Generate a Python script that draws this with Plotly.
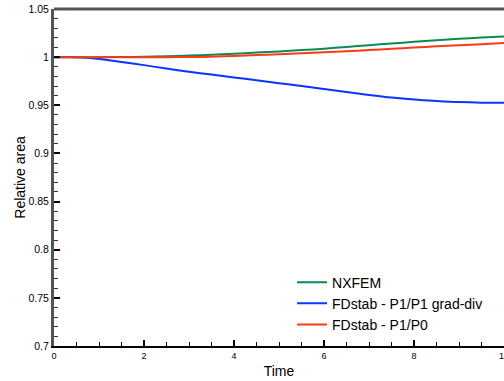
import plotly.graph_objects as go

time = [0, 0.5, 1, 1.5, 2, 2.5, 3, 3.5, 4, 4.5, 5, 5.5, 6, 6.5, 7, 7.5, 8, 8.5, 9, 9.5, 10]

nxfem = [1.0, 1.0, 1.0, 1.0001, 1.0004, 1.0009, 1.0016, 1.0026, 1.0036, 1.0047, 1.0059,
         1.0073, 1.0088, 1.0106, 1.0124, 1.0142, 1.0159, 1.0175, 1.0190, 1.0203, 1.0215]
fdstab_gd = [1.0, 0.9999, 0.9981, 0.9950, 0.9917, 0.9881, 0.9849, 0.9819, 0.9789, 0.9760, 0.9730,
             0.9700, 0.9669, 0.9638, 0.9608, 0.9581, 0.9560, 0.9545, 0.9533, 0.9527, 0.9526]
fdstab_p0 = [1.0, 1.0, 1.0, 1.0, 1.0, 1.0, 1.0001, 1.0005, 1.0012, 1.0021, 1.0030,
             1.0040, 1.0050, 1.0061, 1.0074, 1.0087, 1.0100, 1.0112, 1.0124, 1.0135, 1.0146]

names = ["NXFEM", "FDstab - P1/P1 grad-div", "FDstab - P1/P0"]
colors = ["#0b8a52", "#0a34ff", "#ff3a14"]

x_ticks = [0, 2, 4, 6, 8, 10]
y_ticks = [0.7, 0.75, 0.8, 0.85, 0.9, 0.95, 1.0, 1.05]
y_tick_text = ["0.7", "0.75", "0.8", "0.85", "0.9", "0.95", "1", "1.05"]

fig = go.Figure()
for name, ys, c in zip(names, [nxfem, fdstab_gd, fdstab_p0], colors):
    fig.add_trace(go.Scatter(x=time, y=ys, mode="lines", name=name,
                             line=dict(color=c, width=2, shape="spline", smoothing=0.8)))

fig.update_layout(
    width=504, height=381,
    margin=dict(l=54, r=0, t=9, b=35, autoexpand=False),
    paper_bgcolor="white", plot_bgcolor="white",
    font=dict(family="Liberation Sans, Arial, sans-serif", color="black"),
    showlegend=True,
    legend=dict(x=0.529, y=0.126, xanchor="left", yanchor="middle",
                bgcolor="rgba(0,0,0,0)", font=dict(size=14), itemwidth=30,
                tracegroupgap=0),
)

fig.update_xaxes(
    range=[0, 10], tickvals=x_ticks, ticktext=[str(v) for v in x_ticks],
    ticks="inside", ticklen=6, tickwidth=1.5, tickcolor="black",
    minor=dict(dtick=0.5, ticks="inside", ticklen=4, tickwidth=1, tickcolor="black"),
    showline=True, linecolor="black", linewidth=2, showgrid=False, zeroline=False,
    automargin=False, ticklabeloverflow="allow",
    tickfont=dict(size=9), title=dict(text="Time", font=dict(size=14), standoff=6),
)
fig.update_yaxes(
    range=[0.7, 1.05], tickvals=y_ticks, ticktext=y_tick_text,
    ticks="inside", ticklen=6, tickwidth=1.5, tickcolor="black",
    minor=dict(dtick=0.01, ticks="inside", ticklen=4, tickwidth=1, tickcolor="#333"),
    showline=True, linecolor="#555555", linewidth=3, showgrid=False, zeroline=False,
    automargin=False, ticklabeloverflow="allow",
    tickfont=dict(size=10.5), title=dict(text="Relative area", font=dict(size=14), standoff=0),
)

fig.add_shape(type="line", xref="paper", yref="paper", x0=0, x1=1, y0=1, y1=1,
              line=dict(color="#555555", width=3))

fig.write_html("out.html", config={"displayModeBar": False},
               post_script="document.body.style.margin='0';document.body.style.overflow='hidden';")
